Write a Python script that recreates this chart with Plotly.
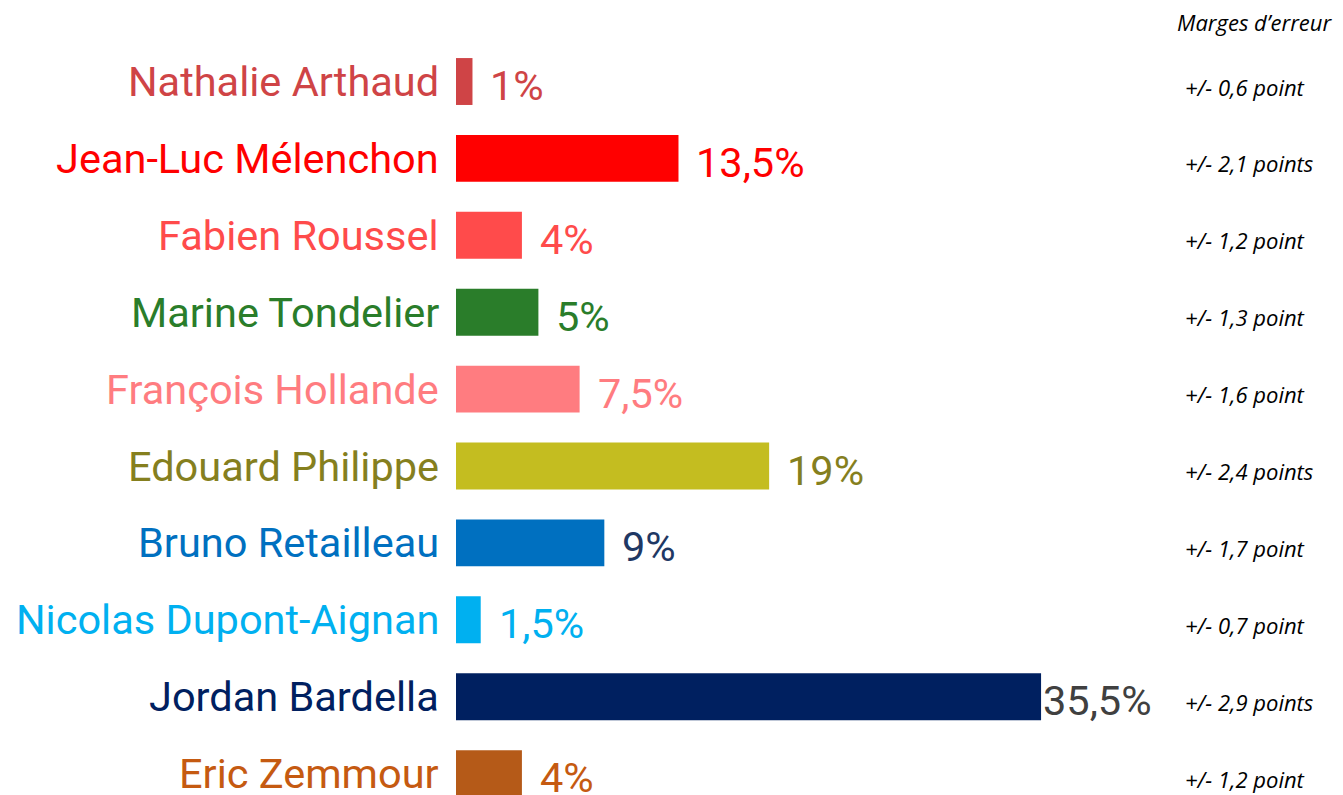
import plotly.graph_objects as go

# Intentions de vote (%)
candidates = ["Nathalie Arthaud", "Jean-Luc Mélenchon", "Fabien Roussel", "Marine Tondelier",
              "François Hollande", "Edouard Philippe", "Bruno Retailleau",
              "Nicolas Dupont-Aignan", "Jordan Bardella", "Eric Zemmour"]
scores = [1, 13.5, 4, 5, 7.5, 19, 9, 1.5, 35.5, 4]
score_labels = ["1%", "13,5%", "4%", "5%", "7,5%", "19%", "9%", "1,5%", "35,5%", "4%"]
margins = ["+/- 0,6 point", "+/- 2,1 points", "+/- 1,2 point", "+/- 1,3 point", "+/- 1,6 point",
           "+/- 2,4 points", "+/- 1,7 point", "+/- 0,7 point", "+/- 2,9 points", "+/- 1,2 point"]

bar_colors = ["#CF4446", "#FF0000", "#FF4B4B", "#2A7D2A", "#FF7C80",
              "#C4BD20", "#0070C0", "#00B0F0", "#002060", "#B55A18"]
name_colors = ["#CF4446", "#FF0000", "#FF4B4B", "#2A7D2A", "#FF7C80",
               "#857F1E", "#0070C0", "#00B0F0", "#002060", "#C55A11"]
label_colors = ["#CF4446", "#FF0000", "#FF4B4B", "#2A7D2A", "#FF7C80",
                "#857F1E", "#1F3864", "#00B0F0", "#404040", "#C55A11"]

FONT = "Roboto"
BIG = 41.5
SMALL = 22

idx = list(range(len(candidates)))

fig = go.Figure(go.Bar(
    x=scores, y=idx, orientation="h",
    marker=dict(color=bar_colors, line=dict(width=0)),
    width=0.61, hoverinfo="skip",
))

annotations = []
# candidate names, right aligned against the bars
for i, (n, col) in enumerate(zip(candidates, name_colors)):
    annotations.append(dict(
        x=0, y=i, xref="paper", yref="y", text=n, showarrow=False,
        xanchor="right", yanchor="middle", xshift=-15,
        font=dict(family=FONT, size=BIG, color=col),
    ))

for i, (v, lab, col) in enumerate(zip(scores, score_labels, label_colors)):
    # the biggest bar has its label stuck to the bar end
    xs = 0 if v == max(scores) else 16
    annotations.append(dict(
        x=v, y=i, xref="x", yref="y", text=lab, showarrow=False,
        xanchor="left", yanchor="middle", xshift=xs, yshift=-4,
        font=dict(family=FONT, size=BIG, color=col),
    ))

for i, m in enumerate(margins):
    annotations.append(dict(
        x=0.8196, y=i, xref="paper", yref="y", text="<i>" + m + "</i>", showarrow=False,
        xanchor="left", yanchor="middle", yshift=-5,
        font=dict(family="Open Sans", size=SMALL, color="#000000"),
    ))

annotations.append(dict(
    x=0.8106, y=0.982, xref="paper", yref="paper", text="<i>Marges d’erreur</i>",
    showarrow=False, xanchor="left", yanchor="middle",
    font=dict(family="Open Sans", size=SMALL, color="#000000"),
))

fig.update_layout(
    width=1335, height=787,
    margin=dict(l=448, r=0, t=0, b=0),
    plot_bgcolor="white", paper_bgcolor="white",
    showlegend=False,
    annotations=annotations,
    xaxis=dict(range=[0, 53.82], visible=False, fixedrange=True),
    yaxis=dict(range=[9.278, -0.956], visible=False, fixedrange=True),
)

fig.write_html("out.html")
